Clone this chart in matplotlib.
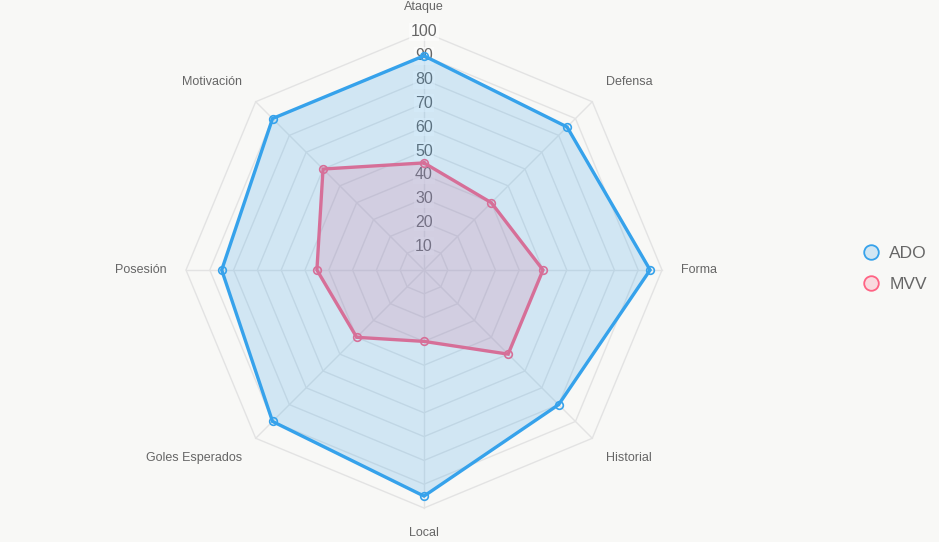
import numpy as np
import matplotlib
matplotlib.use("Agg")
import matplotlib.pyplot as plt
from matplotlib.lines import Line2D

categories = ["Ataque", "Defensa", "Forma", "Historial", "Local",
              "Goles Esperados", "Posesión", "Motivación"]
ado_values = [90, 85, 95, 80, 95, 90, 85, 90]
mvv_values = [45, 40, 50, 50, 30, 40, 45, 60]
tick_values = [10, 20, 30, 40, 50, 60, 70, 80, 90, 100]
series_names = ["ADO", "MVV"]

plt.rcParams['font.family'] = ['Liberation Sans', 'DejaVu Sans']

BG = "#f8f8f6"
BLUE = "#36a2eb"
PINK = "#ff6384"
GRID = "#e3e3e3"
TXT = "#666666"

fig = plt.figure(figsize=(9.39, 5.42), dpi=100)
fig.patch.set_facecolor(BG)

cx, cy, R = 424, 270, 238
W, H = 939, 542
ax = fig.add_axes([(cx - R) / W, (H - cy - R) / H, 2 * R / W, 2 * R / H],
                  projection="polar")
ax.set_facecolor("none")
ax.set_theta_offset(np.pi / 2)
ax.set_theta_direction(-1)
ax.set_ylim(0, 100)
ax.grid(False)
ax.spines["polar"].set_visible(False)
ax.set_xticks([])
ax.set_yticks([])

n = len(categories)
angles = np.arange(n) * 2 * np.pi / n
ang_closed = np.append(angles, angles[0])

# octagonal grid
for t in tick_values:
    ax.plot(ang_closed, [t] * (n + 1), color=GRID, lw=1, zorder=1)
for a in angles:
    ax.plot([a, a], [0, 100], color=GRID, lw=1, zorder=1)

# tick labels
for t in tick_values:
    ax.text(0, t, str(t), ha="center", va="center", fontsize=11.5, color=TXT,
            zorder=2,
            bbox=dict(facecolor="white", alpha=0.55, edgecolor="none", pad=1.2))

# category labels
aligns = [("center", "bottom"), ("left", "bottom"), ("left", "center"),
          ("left", "top"), ("center", "top"), ("right", "top"),
          ("right", "center"), ("right", "bottom")]
for a, lab, (ha, va) in zip(angles, categories, aligns):
    ax.text(a, 108, lab, ha=ha, va=va, fontsize=9, color=TXT)

def draw(vals, color, z):
    v = np.append(vals, vals[0])
    ax.fill(ang_closed, v, color=color, alpha=0.2, lw=0, zorder=z)
    ax.plot(ang_closed, v, color=color, lw=2.4, zorder=z + 0.5,
            solid_joinstyle="miter")
    ax.plot(angles, vals, ls="none", marker="o", ms=5.5, mew=1.2,
            mec=color, mfc=(1, 1, 1, 0), zorder=z + 0.6)

draw(mvv_values, PINK, 3)
draw(ado_values, BLUE, 5)
ax.set_clip_on(False)
for art in ax.lines + ax.texts:
    art.set_clip_on(False)

handles = [Line2D([], [], ls="none", marker="o", ms=10.5, mew=1.3, mec=c,
                  mfc=matplotlib.colors.to_rgba(c, 0.2))
           for c in (BLUE, PINK)]
leg = fig.legend(handles, series_names, loc="center left",
                 bbox_to_anchor=(845 / W, (H - 269) / H), frameon=False,
                 fontsize=12.5, labelcolor=TXT, handletextpad=0.45,
                 labelspacing=0.95, handlelength=1.2)

fig.savefig("out.png", dpi=100, facecolor=BG)
